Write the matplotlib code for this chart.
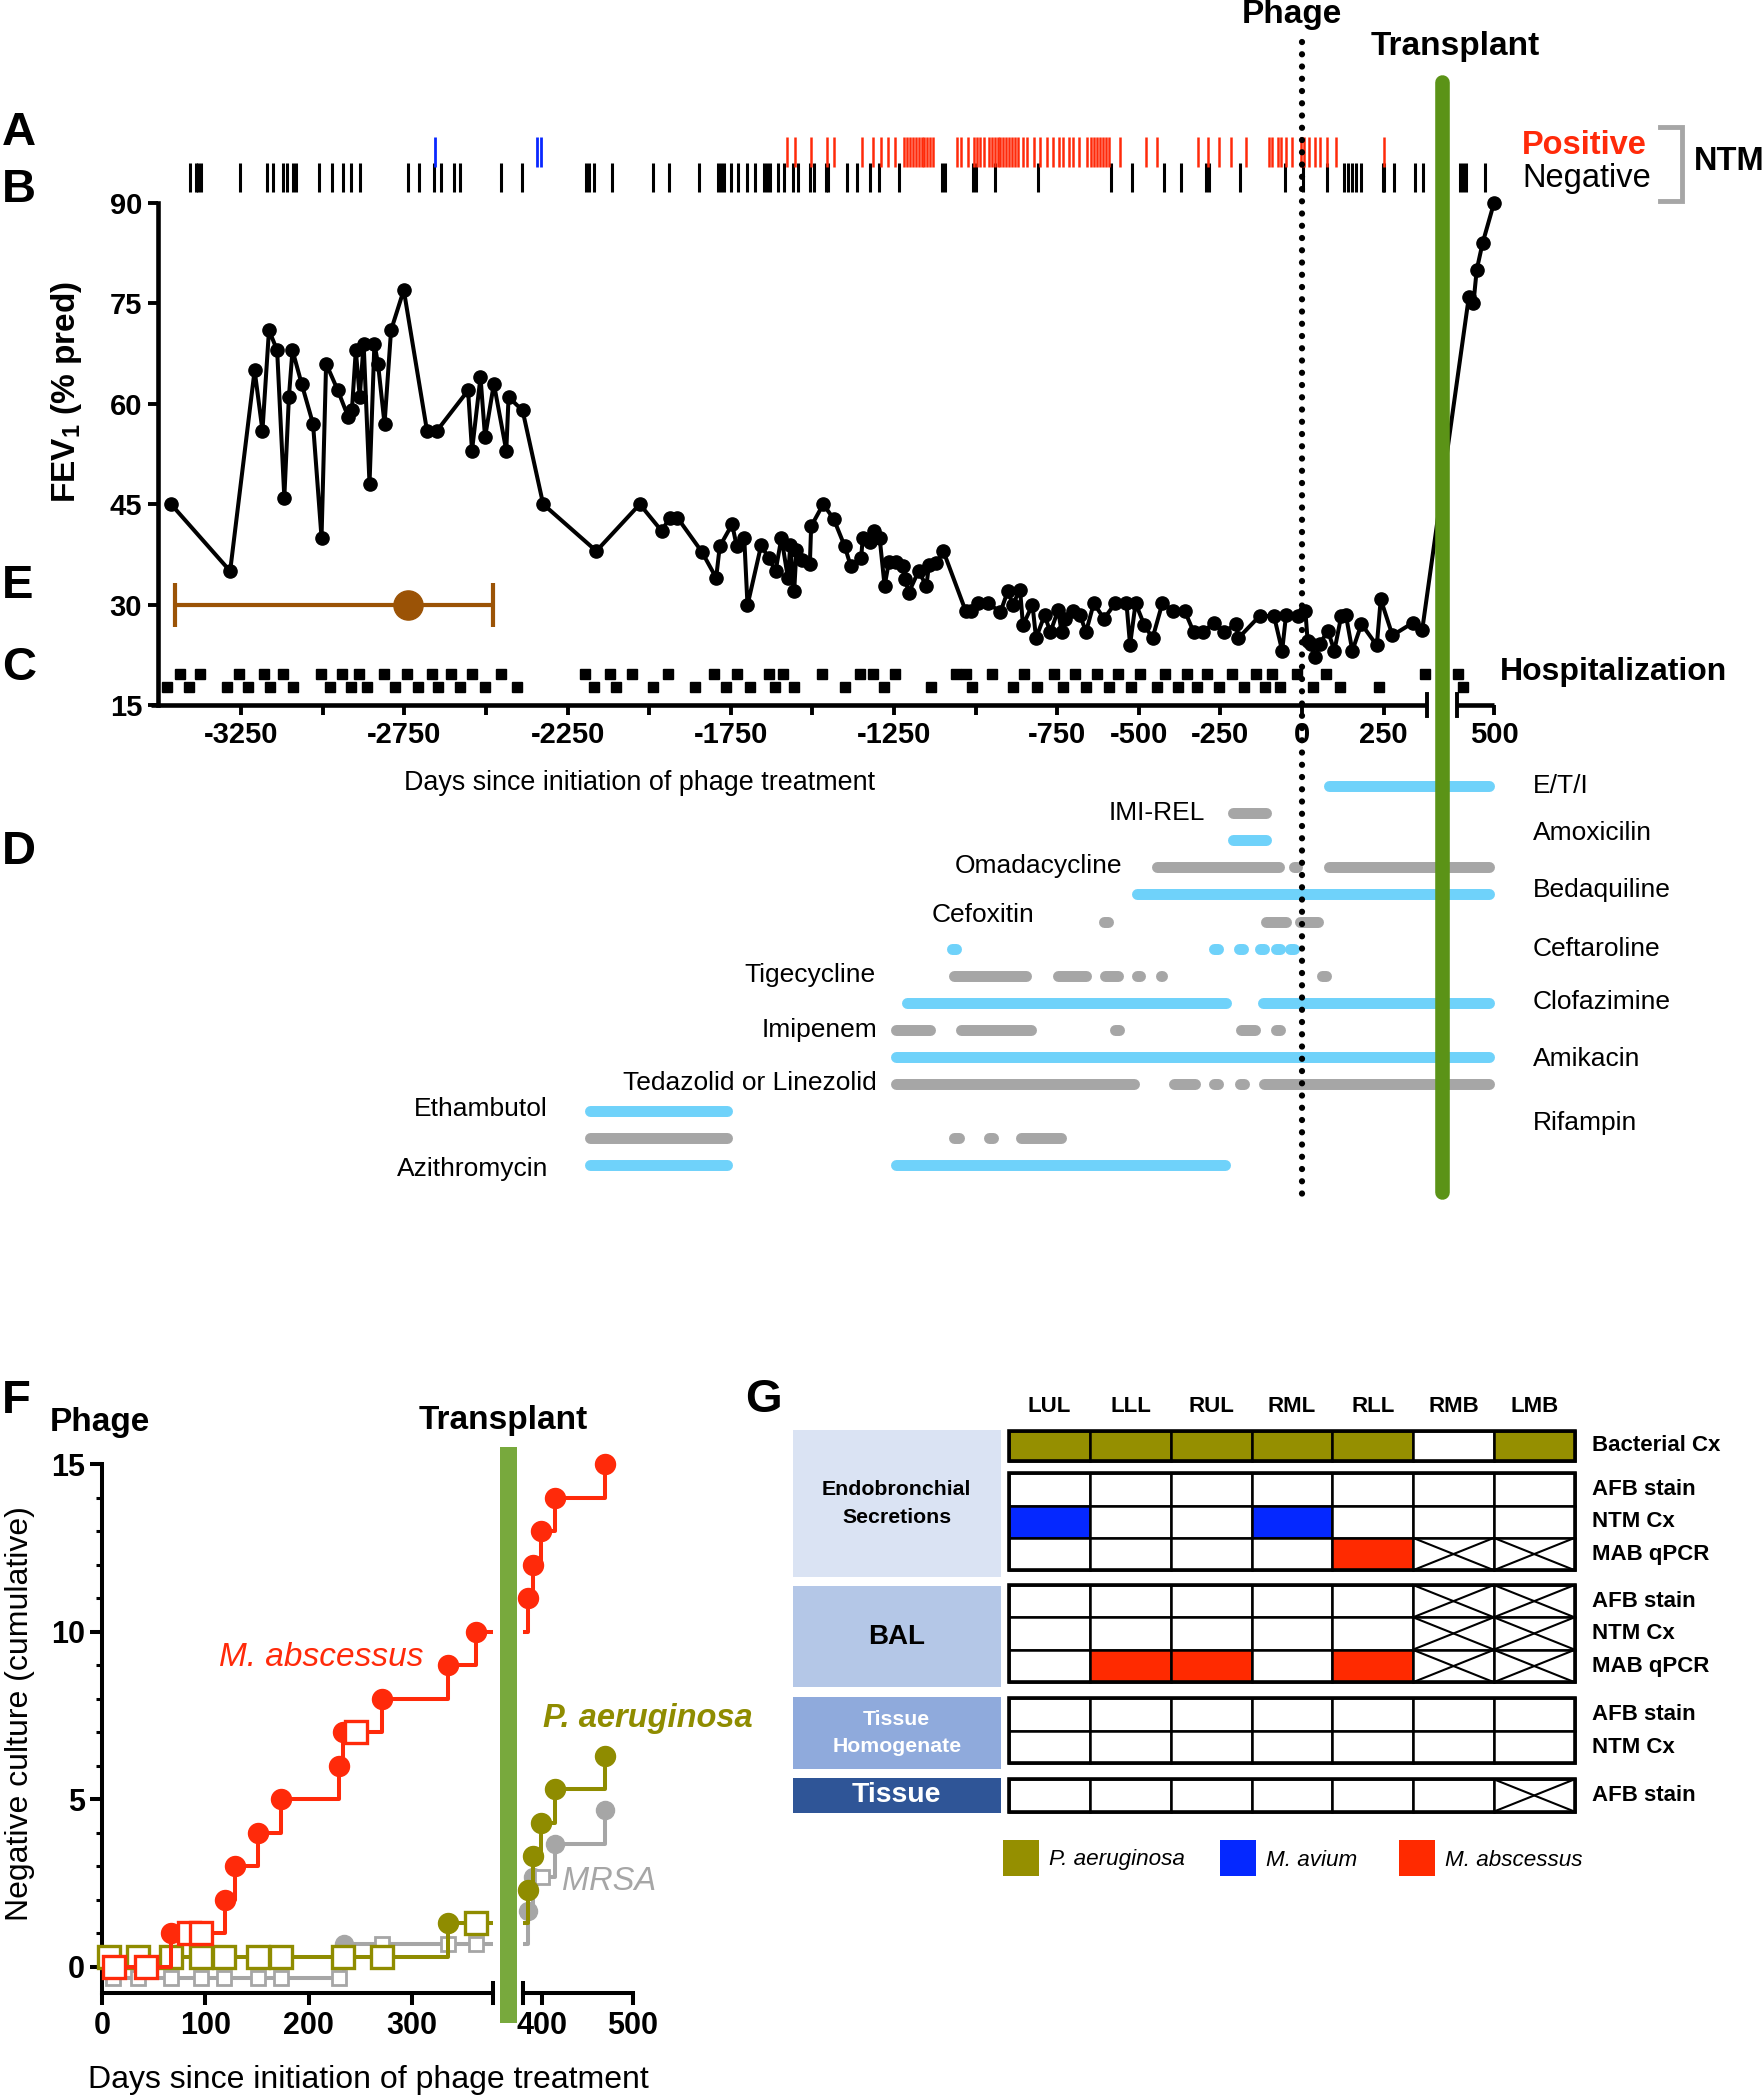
import numpy as np
import matplotlib
matplotlib.use("Agg")
import matplotlib.pyplot as plt
from matplotlib.transforms import blended_transform_factory as blend
from matplotlib.patches import Rectangle
from matplotlib.ticker import MultipleLocator

plt.rcParams['font.family'] = ['Liberation Sans', 'DejaVu Sans']
plt.rcParams['mathtext.fontset'] = 'custom'
plt.rcParams['mathtext.rm'] = 'Liberation Sans'
plt.rcParams['mathtext.bf'] = 'Liberation Sans:bold'
plt.rcParams['mathtext.it'] = 'Liberation Sans:italic'

# ====================== DATA ======================
# FEV1 (% predicted) vs days since phage initiation
fev_day = [-3465, -3284, -3209, -3185, -3165, -3140, -3118, -3104, -3093, -3065, -3030, -3004,
           -2990, -2954, -2922, -2911, -2899, -2887, -2875, -2857, -2842, -2831, -2811, -2791,
           -2752, -2681, -2650, -2555, -2543, -2517, -2503, -2476, -2438, -2431, -2388, -2325,
           -2162, -2029, -1962, -1937, -1914, -1839, -1795, -1784, -1746, -1732, -1709, -1699,
           -1657, -1634, -1613, -1595, -1575, -1568, -1556, -1549, -1531, -1508, -1504, -1467,
           -1435, -1401, -1383, -1351, -1346, -1325, -1312, -1294, -1279, -1266, -1243, -1223,
           -1216, -1205, -1175, -1151, -1143, -1120, -1099, -1031, -1014, -992, -962, -924,
           -901, -887, -864, -855, -826, -815, -789, -771, -747, -737, -727, -703, -680, -662,
           -638, -607, -572, -538, -527, -510, -483, -458, -428, -394, -360, -332, -305, -271,
           -239, -202, -195, -130, -86, -61, -49, -11, 10, 17, 27, 40, 54, 79, 99, 120, 134,
           154, 182, 229, 241, 277, 340, 368, 423, 437, 447, 465, 500]
fev_val = [45, 35, 65, 56, 71, 68, 46, 61, 68, 63, 57, 40,
           66, 62, 58, 59, 68, 61, 69, 48, 69, 66, 57, 71,
           77, 56, 56, 62, 53, 64, 55, 63, 53, 61, 59, 45,
           38, 45, 41, 43, 43, 37.9, 34, 38.7, 42, 38.7, 40, 29.9,
           38.9, 36.9, 35, 40, 33.9, 38.9, 32, 38.2, 36.7, 36, 41.7, 45,
           42.8, 38.7, 35.8, 36.9, 39.9, 39.4, 41, 39.9, 32.8, 36.3, 36.3, 35.8,
           33.8, 31.8, 35, 32.8, 35.9, 36.2, 38, 29.1, 29.1, 30.2, 30.2, 28.9,
           32.1, 30, 32.2, 26.9, 30, 25, 28.4, 25.9, 29.2, 25.9, 27.9, 29.1, 28.4, 25.9,
           30.2, 27.9, 30.2, 30.2, 24, 30.2, 26.9, 25, 30.2, 29.1, 29.1, 25.9, 25.9, 27.2,
           25.9, 27.1, 25, 28.3, 28.3, 23.1, 28.5, 28.3, 29.1, 24.6, 24.1, 22.1, 24.1, 26.1, 23.1, 28.3, 28.5,
           23.1, 27.1, 23.9, 30.8, 25.4, 27.3, 26.2, 76, 75, 80, 84, 90]

# A: NTM positive cultures (M. abscessus red, M. avium blue); B: negative cultures
ntm_pos_mabs = [-1579, -1552, -1503, -1455, -1433, -1348, -1316, -1291, -1269, -1246, -1219, -1210,
                -1201, -1192, -1183, -1174, -1165, -1157, -1148, -1139, -1130, -1058, -1046, -1022,
                -1005, -996, -987, -974, -960, -951, -942, -933, -924, -915, -906, -897, -888, -879,
                -870, -856, -844, -820, -803, -781, -763, -745, -731, -713, -701, -683, -660, -647,
                -638, -629, -620, -611, -602, -593, -558, -477, -445, -320, -289, -254, -218, -173,
                -102, -93, -75, -66, -48, -30, -3, 5, 20, 41, 56, 77, 104, 252]
ntm_pos_mav = [-2655, -2344, -2331]
ntm_neg = [-3408, -3390, -3381, -3372, -3253, -3170, -3153, -3121, -3109, -3091, -3082, -3012,
           -2971, -2938, -2915, -2885, -2739, -2704, -2660, -2637, -2599, -2581, -2453, -2391,
           -2194, -2185, -2168, -2115, -1987, -1939, -1848, -1790, -1781, -1772, -1751, -1728,
           -1702, -1675, -1649, -1640, -1631, -1605, -1587, -1561, -1543, -1508, -1494, -1459,
           -1452, -1394, -1362, -1324, -1297, -1236, -1103, -1094, -1008, -999, -942, -808,
           -584, -522, -424, -371, -295, -284, -191, -52, 2, 77, 127, 140, 152, 166, 181, 247,
           252, 283, 345, 372, 397, 404, 413, 472]

# C: hospitalizations (two staggered rows)
hosp_row1 = [-3439, -3376, -3258, -3179, -3123, -3007, -2942, -2889, -2813, -2743, -2665, -2607,
             -2542, -2454, -2198, -2120, -2053, -1944, -1801, -1732, -1634, -1590, -1472, -1353,
             -1316, -1247, -1060, -1030, -949, -853, -760, -695, -627, -565, -497, -421, -353,
             -291, -216, -140, -92, -17, 72, 377, 391]
hosp_row2 = [-3478, -3411, -3293, -3228, -3161, -3091, -2977, -2915, -2866, -2778, -2708, -2648,
             -2581, -2502, -2405, -2168, -2103, -1987, -1860, -1764, -1691, -1616, -1558, -1401,
             -1280, -1138, -1010, -887, -812, -732, -661, -592, -524, -445, -380, -321, -253,
             -179, -113, -69, 35, 117, 236, 405]
hosp_levels = [19.7, 17.7]

# E: median and range
e_low, e_mid, e_high, e_level = -3452, -2740, -2479, 30

# D: antibiotic courses (start, end) per row, top to bottom
row_eti = [(84, 484)]
row_imirel = [(-213, -111)]
row_amox = [(-213, -111)]
row_omada = [(-443, -71), (-24, -16), (84, 484)]
row_bedaq = [(-507, 484)]
row_cefox = [(-607, -595), (-111, -48), (-7, 50)]
row_ceftar = [(-1073, -1061), (-271, -259), (-193, -181), (-128, -116), (-79, -67), (-37, -25)]
row_tige = [(-1066, -847), (-747, -663), (-605, -565), (-507, -495), (-433, -429), (61, 73)]
row_clof = [(-1210, -233), (-121, 484)]
row_imip = [(-1244, -1141), (-1046, -830), (-574, -562), (-188, -145), (-79, -67)]
row_amik = [(-1244, 484)]
row_ted = [(-1244, -516), (-391, -327), (-270, -258), (-190, -178), (-118, 484)]
row_etham = [(-2183, -1763)]
row_rif = [(-2183, -1763), (-1066, -1052), (-959, -947), (-861, -739)]
row_azi = [(-2183, -1763), (-1244, -236)]
drug_rows = [row_eti, row_imirel, row_amox, row_omada, row_bedaq, row_cefox, row_ceftar,
             row_tige, row_clof, row_imip, row_amik, row_ted, row_etham, row_rif, row_azi]
drug_row_kind = ['b', 'g', 'b', 'g', 'b', 'g', 'b', 'g', 'b', 'g', 'b', 'g', 'b', 'g', 'b']

PHAGE_DAY, TRANSPLANT_DAY = 0, 386

# F: cumulative negative cultures
mabs_day = [12, 43, 67, 84, 96, 119, 129, 151, 173, 229, 233, 246, 271, 335, 362, 385, 390, 399, 414, 469]
mabs_val = [0, 0, 1, 1, 1, 2, 3, 4, 5, 6, 7, 7, 8, 9, 10, 11, 12, 13, 14, 15]
mabs_kind = "ssossoooooosoooooooo"
pa_day = [7, 35, 67, 96, 118, 151, 173, 233, 271, 335, 362, 385, 390, 399, 414, 469]
pa_val = [0.3, 0.3, 0.3, 0.3, 0.3, 0.3, 0.3, 0.3, 0.3, 1.3, 1.3, 2.3, 3.3, 4.3, 5.3, 6.3]
pa_kind = "sssssssssosooooo"
mrsa_day = [11, 35, 67, 96, 118, 151, 173, 229, 234, 271, 335, 362, 385, 390, 400, 414, 469]
mrsa_val = [-0.33, -0.33, -0.33, -0.33, -0.33, -0.33, -0.33, -0.33, 0.67, 0.67, 0.67, 0.67,
            1.67, 2.67, 2.67, 3.67, 4.67]
mrsa_kind = "ssssssssosssoosoo"

# G: culture / stain table
g_cols = ['LUL', 'LLL', 'RUL', 'RML', 'RLL', 'RMB', 'LMB']
g_row_labels = ['Bacterial Cx', 'AFB stain', 'NTM Cx', 'MAB qPCR', 'AFB stain', 'NTM Cx',
                'MAB qPCR', 'AFB stain', 'NTM Cx', 'AFB stain']
g_cells = ['PPPPP.P',
           '.......',
           'A..A...',
           '....MXX',
           '.....XX',
           '.....XX',
           '.MM.MXX',
           '.......',
           '.......',
           '......X']
g_groups = [[0], [1, 2, 3], [4, 5, 6], [7, 8], [9]]
g_sections = ['Endobronchial\nSecretions', 'BAL', 'Tissue\nHomogenate', 'Tissue']
g_legend = ['P. aeruginosa', 'M. avium', 'M. abscessus']

# ====================== STYLE ======================
RED = '#FF2A0A'
BLUE_NTM = '#0A28FF'
DRUG_BLUE = '#6FD2FA'
DRUG_GRAY = '#A6A6A6'
GREEN = '#5B9317'
GREEN_F = '#78A93D'
BROWN = '#9B5306'
OLIVE = '#8F8C00'
GRAY = '#A6A6A6'
CELL_COL = {'P': '#958F00', 'A': '#0528FF', 'M': '#FF2A00', '.': 'white', 'X': 'white'}

W, H = 1765, 2100
fig = plt.figure(figsize=(W / 100, H / 100), dpi=100)


def add_ax(left, top, right, bottom):
    a = fig.add_axes([left / W, 1 - bottom / H, (right - left) / W, (bottom - top) / H])
    a.patch.set_visible(False)
    return a


# broken time axis (gap around transplant)
BRK0, BRK1, SHIFT = 384.0, 388.0, 88.0
GAPW = BRK1 + SHIFT - BRK0


def fwd(x):
    x = np.asarray(x, dtype=float)
    mid = BRK0 + (x - BRK0) * GAPW / (BRK1 - BRK0)
    return np.where(x <= BRK0, x, np.where(x >= BRK1, x + SHIFT, mid))


def inv(y):
    y = np.asarray(y, dtype=float)
    mid = BRK0 + (y - BRK0) * (BRK1 - BRK0) / GAPW
    return np.where(y <= BRK0, y, np.where(y >= BRK0 + GAPW, y - SHIFT, mid))


XL, XR = -3505, 500
AXL, AXR = 158, 1494

# ---------------- main FEV1 axes ----------------
ax = add_ax(AXL, 203, AXR, 705)
ax.set_xscale('function', functions=(fwd, inv))
ax.set_xlim(XL, XR)
ax.set_ylim(15, 90)
for s in ['top', 'right', 'bottom']:
    ax.spines[s].set_visible(False)
ax.spines['left'].set_linewidth(3.3)
ax.set_yticks([15, 30, 45, 60, 75, 90])
xt = [-3250, -3000, -2750, -2500, -2250, -2000, -1750, -1500, -1250, -1000, -750, -500, -250, 0, 250, 500]
xtl = ['-3250', '', '-2750', '', '-2250', '', '-1750', '', '-1250', '', '-750', '-500', '-250', '0', '250', '500']
ax.set_xticks(xt)
ax.set_xticklabels(xtl)
ax.minorticks_off()
ax.tick_params(direction='out', length=7.5, width=2.8, labelsize=21, pad=4)
for lab in ax.get_xticklabels() + ax.get_yticklabels():
    lab.set_fontweight('bold')
tb = blend(ax.transData, ax.transAxes)
ax.plot([XL - 20, BRK0], [0, 0], transform=tb, color='k', lw=3.3, clip_on=False, solid_capstyle='butt')
ax.plot([BRK1, XR], [0, 0], transform=tb, color='k', lw=3.3, clip_on=False, solid_capstyle='butt')
dd = 11 / 502
for xb in (BRK0, BRK1):
    ax.plot([xb, xb], [-dd, dd], transform=tb, color='k', lw=2.8, clip_on=False)

ax.plot(fev_day, fev_val, '-o', color='k', lw=2.9, ms=9.5, clip_on=False, zorder=3)
ax.plot(hosp_row1, [hosp_levels[0]] * len(hosp_row1), 's', color='k', ms=6.5, clip_on=False)
ax.plot(hosp_row2, [hosp_levels[1]] * len(hosp_row2), 's', color='k', ms=6.5, clip_on=False)
ax.errorbar([e_mid], [e_level], xerr=[[e_mid - e_low], [e_high - e_mid]], fmt='o', color=BROWN,
            ms=21, lw=3, capsize=16, capthick=3, clip_on=False)

# ---------------- A/B strip ----------------
axs = add_ax(AXL, 130, AXR, 200)
axs.set_xscale('function', functions=(fwd, inv))
axs.set_xlim(XL, XR)
axs.set_ylim(0, 1)
axs.axis('off')
axs.vlines(ntm_neg, 0.114, 0.53, color='k', lw=2.2)
axs.vlines(ntm_pos_mabs, 0.47, 0.9, color=RED, lw=1.8)
axs.vlines(ntm_pos_mav, 0.47, 0.9, color=BLUE_NTM, lw=2.0)

# ---------------- D: antibiotic bars ----------------
axd = add_ax(AXL, 772.5, AXR, 1179)
axd.set_xscale('function', functions=(fwd, inv))
axd.set_xlim(XL, XR)
axd.set_ylim(14.5, -0.5)
axd.axis('off')
for i, segs in enumerate(drug_rows):
    col = DRUG_BLUE if drug_row_kind[i] == 'b' else DRUG_GRAY
    for s0, s1 in segs:
        axd.plot([s0, s1], [i, i], color=col, lw=7.9, solid_capstyle='round', clip_on=False)

# ---------------- F: cumulative negative cultures ----------------
FT, FB = 1443.9, 1993
axL = add_ax(102, FT, 493.5, FB)
axR = add_ax(523, FT, 633, FB)
axL.set_xlim(0, 379)
axR.set_xlim(379, 500)
for a in (axL, axR):
    a.set_ylim(-0.78, 15.6)
    a.spines['top'].set_visible(False)
    a.spines['right'].set_visible(False)
    a.spines['bottom'].set_linewidth(2.9)
    a.tick_params(axis='x', direction='out', length=8.3, width=2.9, labelsize=22, pad=5)
axL.spines['left'].set_linewidth(2.9)
axL.spines['left'].set_bounds(-0.78, 15)
axL.set_xticks([0, 100, 200, 300])
axR.set_xticks([400, 500])
axL.set_yticks([0, 5, 10, 15])
axL.yaxis.set_minor_locator(MultipleLocator(1))
axL.tick_params(axis='y', which='major', direction='out', length=8.3, width=2.9, labelsize=22, pad=4)
axL.tick_params(axis='y', which='minor', direction='out', length=4.5, width=2.2)
axR.spines['left'].set_visible(False)
axR.set_yticks([])
for a in (axL, axR):
    for lab in a.get_xticklabels() + a.get_yticklabels():
        lab.set_fontweight('bold')
fd = 10 / (FB - FT)
axL.plot([1, 1], [-fd, fd], transform=axL.transAxes, color='k', lw=2.9, clip_on=False)
axR.plot([0, 0], [-fd, fd], transform=axR.transAxes, color='k', lw=2.9, clip_on=False)


def draw_series(days, vals, kinds, color, sq_ms, sq_mew, ci_ms, z):
    days = np.asarray(days, float)
    vals = np.asarray(vals, float)
    kinds = np.array(list(kinds))
    for a in (axL, axR):
        a.step(days, vals, where='post', color=color, lw=2.9, zorder=z)
        lo, hi = a.get_xlim()
        inr = (days >= lo) & (days <= hi)
        m = inr & (kinds == 'o')
        a.plot(days[m], vals[m], 'o', color=color, ms=ci_ms, clip_on=False, zorder=z + 0.5)
        m = inr & (kinds == 's')
        a.plot(days[m], vals[m], 's', mfc='white', mec=color, mew=sq_mew, ms=sq_ms,
               clip_on=False, zorder=z + 0.6)


draw_series(mrsa_day, mrsa_val, mrsa_kind, GRAY, 10.5, 2.0, 13, 2)
draw_series(pa_day, pa_val, pa_kind, OLIVE, 15.5, 2.4, 14.4, 3)
draw_series(mabs_day, mabs_val, mabs_kind, RED, 15.5, 2.4, 14.4, 4)

# ---------------- overlay (annotations, lines, panel G) ----------------
ov = fig.add_axes([0, 0, 1, 1])
ov.set_xlim(0, W)
ov.set_ylim(H, 0)
ov.axis('off')
ov.patch.set_visible(False)
ov.set_zorder(10)

tmix = blend(ax.transData, ov.transData)
ov.plot([PHAGE_DAY, PHAGE_DAY], [42, 1194], transform=tmix, color='k', lw=4.5,
        linestyle=(0, (0.01, 1.95)), dash_capstyle='round')
ov.plot([TRANSPLANT_DAY, TRANSPLANT_DAY], [82, 1192], transform=tmix, color=GREEN, lw=10.5,
        solid_capstyle='round')

# panel letters
for lt, yy in [('A', 133), ('B', 190), ('E', 586), ('C', 668), ('D', 852)]:
    ov.text(2, yy, lt, fontsize=34, fontweight='bold', ha='left', va='center')
ov.text(2, 1401, 'F', fontsize=34, fontweight='bold', ha='left', va='center')
ov.text(745, 1400, 'G', fontsize=34, fontweight='bold', ha='left', va='center')

ov.text(1292, 15, 'Phage', fontsize=24, fontweight='bold', ha='center', va='center')
ov.text(1455, 47, 'Transplant', fontsize=24, fontweight='bold', ha='center', va='center')
ov.text(1522, 145, 'Positive', fontsize=23.5, fontweight='bold', color=RED, ha='left', va='center')
ov.text(1522, 179, 'Negative', fontsize=23.5, ha='left', va='center')
ov.plot([1660, 1682, 1682, 1660], [127, 127, 201, 201], color='#A6A6A6', lw=3.5,
        solid_joinstyle='miter')
ov.text(1694, 162, 'NTM', fontsize=23.5, fontweight='bold', ha='left', va='center')
ov.text(1500, 672, 'Hospitalization', fontsize=23, fontweight='bold', ha='left', va='center')
ov.text(67, 392, r'FEV$_\mathbf{1}$ (% pred)', fontsize=24, fontweight='bold', rotation=90,
        ha='center', va='center')
ov.text(640, 783, 'Days since initiation of phage treatment', fontsize=19.4, ha='center', va='center')

# drug labels
right_labels = [('E/T/I', 786), ('Amoxicilin', 833), ('Bedaquiline', 890), ('Ceftaroline', 949),
                ('Clofazimine', 1002), ('Amikacin', 1059), ('Rifampin', 1123)]
for t, yy in right_labels:
    ov.text(1533, yy, t, fontsize=19, ha='left', va='center')
left_labels = [('IMI-REL', 1205, 813), ('Omadacycline', 1122, 866), ('Cefoxitin', 1034, 915),
               ('Tigecycline', 876, 975), ('Imipenem', 877, 1030),
               ('Tedazolid or Linezolid', 877, 1083), ('Ethambutol', 548, 1109),
               ('Azithromycin', 548, 1169)]
for t, xx, yy in left_labels:
    ov.text(xx, yy, t, fontsize=19, ha='right', va='center')

# F annotations
pL = axL.get_position()
pR = axR.get_position()
gx = (pL.x1 + pR.x0) / 2 * W
ov.add_patch(Rectangle((gx - 8.5, 1447), 17, 2023 - 1447, facecolor=GREEN_F, edgecolor='none', zorder=5))
ov.text(100, 1423, 'Phage', fontsize=24, fontweight='bold', ha='center', va='center')
ov.text(503, 1421, 'Transplant', fontsize=24, fontweight='bold', ha='center', va='center')
ov.text(321, 1658, 'M. abscessus', fontsize=24, style='italic', color=RED, ha='center', va='center')
ov.text(648, 1719, 'P. aeruginosa', fontsize=23.5, style='italic', fontweight='bold', color=OLIVE,
        ha='center', va='center')
ov.text(609, 1881, 'MRSA', fontsize=23.5, style='italic', color=GRAY, ha='center', va='center')
ov.text(368, 2080, 'Days since initiation of phage treatment', fontsize=23, ha='center', va='center')
ov.text(20, 1714, 'Negative culture (cumulative)', fontsize=23, rotation=90, ha='center', va='center')

# ---------------- G: table ----------------
g_x0, g_cw = 1009.3, 80.76
g_row_top = [1430.7, 1473.3, 1505.6, 1537.9, 1585.0, 1617.3, 1649.9, 1698.3, 1731.0, 1779.3]
g_rh = 32.3
for j, c in enumerate(g_cols):
    ov.text(g_x0 + (j + 0.5) * g_cw, 1406, c, fontsize=16, fontweight='bold', ha='center', va='center')
for r, row in enumerate(g_cells):
    y0 = g_row_top[r]
    rh = g_rh if r > 0 else 30.5
    for j, code in enumerate(row):
        x0 = g_x0 + j * g_cw
        ov.add_patch(Rectangle((x0, y0), g_cw, rh, facecolor=CELL_COL[code], edgecolor='k', lw=1.8))
        if code == 'X':
            ov.plot([x0, x0 + g_cw], [y0, y0 + rh], color='k', lw=1.5)
            ov.plot([x0, x0 + g_cw], [y0 + rh, y0], color='k', lw=1.5)
    ov.text(1592, y0 + rh / 2, g_row_labels[r], fontsize=16, fontweight='bold', ha='left', va='center')
for grp in g_groups:
    y0 = g_row_top[grp[0]]
    yb = g_row_top[grp[-1]] + (g_rh if grp[-1] > 0 else 30.5)
    ov.add_patch(Rectangle((g_x0, y0), 7 * g_cw, yb - y0, fill=False, edgecolor='k', lw=2.6))

sec_boxes = [(1430, 1577, '#DAE3F3', 'k', 15.3), (1586, 1687, '#B4C7E7', 'k', 20),
             (1697, 1769, '#8FAADC', 'white', 15.3), (1778, 1813, '#2F5597', 'white', 20.4)]
for (ya, yb, fc, tc, fs), lab in zip(sec_boxes, g_sections):
    ov.add_patch(Rectangle((792.6, ya), 208.4, yb - ya, facecolor=fc, edgecolor='none'))
    ov.text(896.8, (ya + yb) / 2, lab, fontsize=fs, fontweight='bold', color=tc, ha='center',
            va='center', linespacing=1.55)

leg_cols = [CELL_COL['P'], CELL_COL['A'], CELL_COL['M']]
leg_x = [1003, 1220, 1399]
for lx, col, lab in zip(leg_x, leg_cols, g_legend):
    ov.add_patch(Rectangle((lx, 1840), 36, 36, facecolor=col, edgecolor='none'))
    ov.text(lx + 46, 1860, lab, fontsize=16.2, style='italic', ha='left', va='center')

fig.savefig('out.png', dpi=100)
